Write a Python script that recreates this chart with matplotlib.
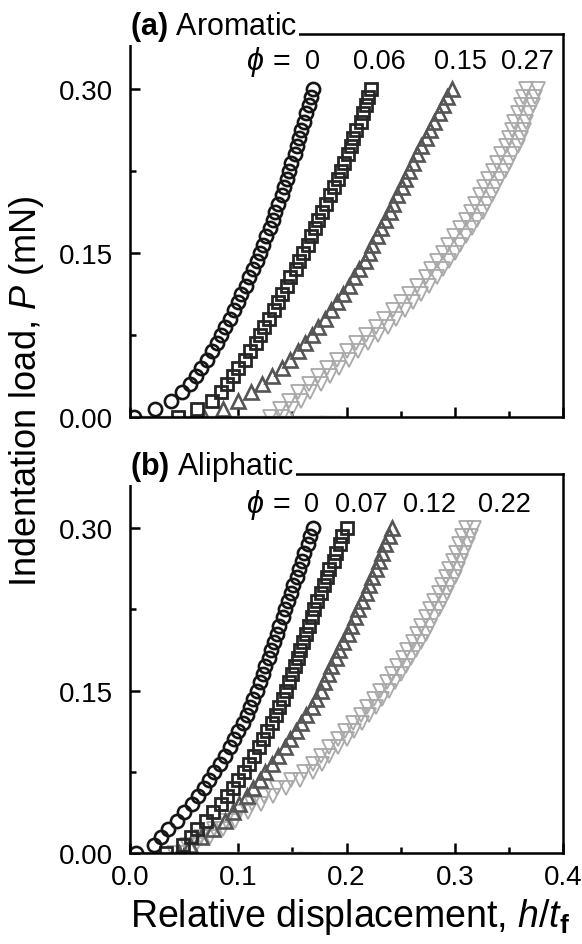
import matplotlib
matplotlib.use("Agg")
import matplotlib.pyplot as plt
from matplotlib.ticker import MultipleLocator, FormatStrFormatter

plt.rcParams['font.family'] = ['Liberation Sans', 'DejaVu Sans']
plt.rcParams['mathtext.fontset'] = 'custom'
plt.rcParams['mathtext.rm'] = 'Liberation Sans'
plt.rcParams['mathtext.it'] = 'Liberation Sans:italic'
plt.rcParams['mathtext.bf'] = 'Liberation Sans:bold'

# Indentation load steps (mN), shared by every loading curve
load = [0.0000, 0.0075, 0.0150, 0.0225, 0.0300, 0.0375, 0.0450, 0.0525, 0.0600, 0.0675,
        0.0750, 0.0825, 0.0900, 0.0975, 0.1050, 0.1125, 0.1200, 0.1275, 0.1350, 0.1425,
        0.1500, 0.1575, 0.1650, 0.1725, 0.1800, 0.1875, 0.1950, 0.2025, 0.2100, 0.2175,
        0.2250, 0.2325, 0.2400, 0.2475, 0.2550, 0.2625, 0.2700, 0.2775, 0.2850, 0.2925,
        0.3000]

# (a) Aromatic: relative displacement h/t_f at each load step
arom_phi = ["0", "0.06", "0.15", "0.27"]
arom_0 = [0.004, 0.023, 0.038, 0.048, 0.055, 0.061, 0.066, 0.071, 0.076, 0.080,
          0.084, 0.088, 0.092, 0.096, 0.100, 0.103, 0.107, 0.110, 0.114, 0.117,
          0.120, 0.123, 0.126, 0.129, 0.132, 0.134, 0.137, 0.140, 0.142, 0.145,
          0.147, 0.149, 0.152, 0.154, 0.156, 0.158, 0.161, 0.163, 0.165, 0.167, 0.169]
arom_006 = [0.044, 0.062, 0.076, 0.084, 0.090, 0.095, 0.100, 0.106, 0.111, 0.116,
            0.120, 0.124, 0.128, 0.133, 0.137, 0.140, 0.145, 0.148, 0.153, 0.156,
            0.160, 0.164, 0.167, 0.171, 0.174, 0.177, 0.181, 0.185, 0.188, 0.192,
            0.195, 0.198, 0.201, 0.204, 0.206, 0.209, 0.213, 0.215, 0.218, 0.220, 0.223]
arom_015 = [0.068, 0.086, 0.100, 0.112, 0.122, 0.131, 0.140, 0.148, 0.155, 0.162,
            0.168, 0.174, 0.180, 0.186, 0.191, 0.197, 0.202, 0.207, 0.212, 0.217,
            0.221, 0.224, 0.228, 0.232, 0.236, 0.240, 0.243, 0.247, 0.251, 0.254,
            0.258, 0.261, 0.265, 0.269, 0.273, 0.277, 0.281, 0.285, 0.289, 0.293, 0.297]
arom_027_run1 = [0.129, 0.139, 0.147, 0.155, 0.165, 0.174, 0.182, 0.191, 0.200, 0.209,
                 0.218, 0.227, 0.235, 0.243, 0.250, 0.258, 0.265, 0.273, 0.278, 0.284,
                 0.289, 0.294, 0.299, 0.305, 0.310, 0.315, 0.319, 0.323, 0.327, 0.331,
                 0.335, 0.339, 0.343, 0.347, 0.350, 0.353, 0.355, 0.358, 0.361, 0.363, 0.366]
arom_027_run2 = [0.140, 0.150, 0.158, 0.166, 0.176, 0.185, 0.193, 0.202, 0.211, 0.220,
                 0.229, 0.238, 0.246, 0.254, 0.261, 0.269, 0.276, 0.284, 0.289, 0.295,
                 0.300, 0.305, 0.310, 0.316, 0.321, 0.326, 0.330, 0.334, 0.338, 0.342,
                 0.346, 0.350, 0.354, 0.358, 0.361, 0.364, 0.366, 0.369, 0.372, 0.374, 0.377]
arom_contact = [0.01, 0.03, 0.05, 0.07, 0.09, 0.11, 0.13, 0.15, 0.17, 0.185]

# (b) Aliphatic
aliph_phi = ["0", "0.07", "0.12", "0.22"]
aliph_0 = [0.006, 0.022, 0.029, 0.035, 0.043, 0.050, 0.057, 0.063, 0.068, 0.073,
           0.078, 0.083, 0.088, 0.092, 0.096, 0.100, 0.104, 0.108, 0.111, 0.114,
           0.117, 0.120, 0.123, 0.125, 0.128, 0.130, 0.133, 0.136, 0.138, 0.141,
           0.143, 0.146, 0.149, 0.151, 0.154, 0.156, 0.159, 0.161, 0.164, 0.166, 0.169]
aliph_007 = [0.033, 0.049, 0.056, 0.062, 0.070, 0.077, 0.084, 0.090, 0.095, 0.100,
             0.105, 0.110, 0.115, 0.119, 0.123, 0.127, 0.131, 0.135, 0.138, 0.141,
             0.144, 0.147, 0.150, 0.152, 0.155, 0.157, 0.160, 0.163, 0.165, 0.168,
             0.170, 0.173, 0.176, 0.179, 0.182, 0.184, 0.188, 0.190, 0.194, 0.196, 0.200]
aliph_012 = [0.045, 0.055, 0.066, 0.077, 0.088, 0.095, 0.101, 0.108, 0.114, 0.120,
             0.125, 0.131, 0.137, 0.143, 0.148, 0.153, 0.158, 0.163, 0.168, 0.172,
             0.176, 0.179, 0.183, 0.186, 0.190, 0.193, 0.197, 0.201, 0.204, 0.208,
             0.211, 0.214, 0.218, 0.221, 0.224, 0.227, 0.230, 0.233, 0.236, 0.239, 0.242]
aliph_022_run1 = [0.041, 0.053, 0.066, 0.078, 0.089, 0.101, 0.113, 0.124, 0.136, 0.149,
                  0.161, 0.169, 0.176, 0.184, 0.192, 0.199, 0.206, 0.213, 0.219, 0.225,
                  0.231, 0.237, 0.242, 0.247, 0.252, 0.256, 0.261, 0.265, 0.269, 0.273,
                  0.277, 0.281, 0.285, 0.288, 0.292, 0.295, 0.298, 0.301, 0.304, 0.307, 0.310]
aliph_022_run2 = [0.049, 0.061, 0.074, 0.086, 0.097, 0.109, 0.121, 0.132, 0.144, 0.157,
                  0.169, 0.177, 0.184, 0.192, 0.200, 0.207, 0.214, 0.221, 0.227, 0.233,
                  0.239, 0.245, 0.250, 0.255, 0.260, 0.264, 0.269, 0.273, 0.277, 0.281,
                  0.285, 0.289, 0.293, 0.296, 0.300, 0.303, 0.306, 0.309, 0.312, 0.315, 0.318]
aliph_contact = [0.01, 0.03, 0.05, 0.07, 0.09, 0.11, 0.13, 0.15, 0.165]

x_ticks = [0.0, 0.1, 0.2, 0.3, 0.4]
y_ticks = [0.00, 0.15, 0.30]

BLACK = '#151515'
DARK = '#262626'
MID = '#555555'
LIGHT = '#a9a9a9'

fig = plt.figure(figsize=(5.82, 9.45), dpi=100)
W, H = 582.0, 945.0
ax_a = fig.add_axes([130 / W, 1 - 418 / H, 433 / W, 383 / H])
ax_b = fig.add_axes([130 / W, 1 - 854 / H, 433 / W, 379 / H])


def draw_panel(ax, curves, light_runs, contact):
    mk = dict(linestyle='none', markerfacecolor='none')
    # zero-load contact readings lie along the bottom frame
    ax.plot(contact, [0.0] * len(contact), marker='_', markersize=16,
            markeredgecolor='#bdbdbd', markeredgewidth=2.5, linestyle='none')
    for run in light_runs:
        ax.plot(run, load, marker='v', markersize=10.5, markeredgecolor=LIGHT,
                markeredgewidth=1.3, **mk)
    ax.plot(curves[2], load, marker='^', markersize=10.5, markeredgecolor=MID,
            markeredgewidth=1.9, **mk)
    ax.plot(curves[1], load, marker='s', markersize=8, markeredgecolor=DARK,
            markeredgewidth=2.0, **mk)
    ax.plot(curves[0], load, marker='o', markersize=9.5, markeredgecolor=BLACK,
            markeredgewidth=1.9, **mk)

    ax.set_xlim(0.0, 0.4)
    ax.set_ylim(0.0, 0.35)
    ax.set_xticks(x_ticks)
    ax.set_yticks(y_ticks)
    ax.xaxis.set_minor_locator(MultipleLocator(0.05))
    ax.yaxis.set_minor_locator(MultipleLocator(0.075))
    ax.yaxis.set_major_formatter(FormatStrFormatter('%.2f'))
    ax.xaxis.set_major_formatter(FormatStrFormatter('%.1f'))
    ax.tick_params(which='both', direction='in', top=False, right=False,
                   width=1.8, labelsize=20)
    ax.tick_params(axis='y', which='both', pad=12)
    ax.tick_params(axis='x', which='both', pad=8)
    ax.tick_params(which='major', length=7)
    ax.tick_params(which='minor', length=4)
    for s in ax.spines.values():
        s.set_linewidth(1.8)


draw_panel(ax_a, [arom_0, arom_006, arom_015], [arom_027_run1, arom_027_run2], arom_contact)
draw_panel(ax_b, [aliph_0, aliph_007, aliph_012], [aliph_022_run1, aliph_022_run2], aliph_contact)
ax_a.tick_params(labelbottom=False)

# Panel titles sit on the top frame line
for ax, tag, name in [(ax_a, '(a)', 'Aromatic'), (ax_b, '(b)', 'Aliphatic')]:
    ax.text(0.0, 1.0, r'$\mathbf{' + tag + r'}$' + ' ' + name, transform=ax.transAxes,
            ha='left', va='baseline', fontsize=22, zorder=10, clip_on=False,
            bbox=dict(facecolor='white', edgecolor='none', pad=1.5))

# Volume-fraction labels above each curve
phi_rows = [(ax_a, arom_phi, [0.169, 0.230, 0.305, 0.367], 0.325),
            (ax_b, aliph_phi, [0.168, 0.214, 0.277, 0.346], 0.322)]
for ax, labels, xs, yrow in phi_rows:
    ax.text(0.148, yrow, '\u03d5 =', ha='right', va='center', fontsize=22,
            style='italic', family=['Liberation Sans', 'DejaVu Sans'])
    for lab, xp in zip(labels, xs):
        ax.text(xp, yrow, lab, ha='center', va='center', fontsize=19.5)

fig.text(27 / W, 1 - 391 / H, 'Indentation load, $P$ (mN)', rotation=90,
         ha='center', va='center', fontsize=26)
fig.text(350 / W, 1 - 917 / H, r'Relative displacement, $h/t_{\mathbf{f}}$',
         ha='center', va='center', fontsize=27)

fig.savefig('out.png', dpi=100)
